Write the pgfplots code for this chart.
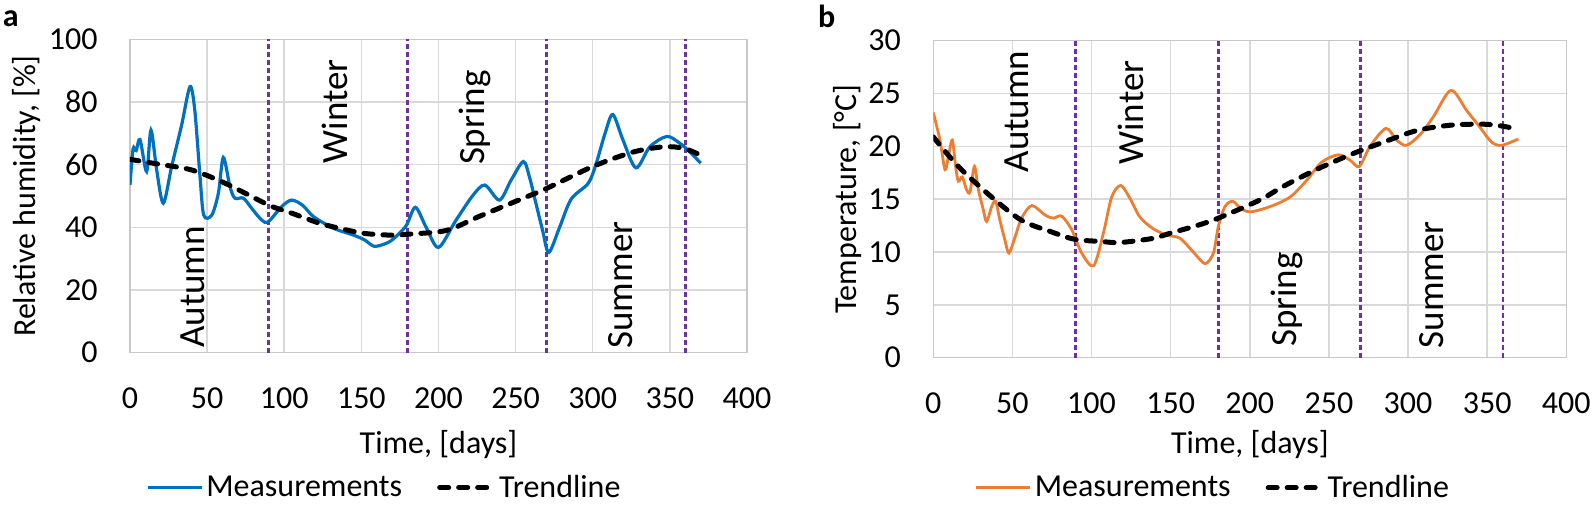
\documentclass[border=0pt]{standalone}
\usepackage{fontspec}
\setmainfont{Carlito}
\usepackage{pgfplots}
\pgfplotsset{compat=1.18}
\definecolor{mblue}{HTML}{0070C0}
\definecolor{morange}{HTML}{ED7D31}
\definecolor{mpurple}{HTML}{7030A0}
\definecolor{gridgray}{HTML}{D9D9D9}
\definecolor{axgray}{HTML}{C8C8C8}
\newcommand{\lf}{\fontsize{16}{19}\selectfont}
\newcommand{\seasonf}{\fontsize{18.5}{22}\selectfont}

\pgfplotsset{
  common/.style={
    scale only axis,
    xmin=0, xmax=400, xtick={0,50,...,400},
    major tick length=0pt,
    tick style={draw=none},
    grid=major,
    major grid style={gridgray, line width=0.75pt},
    axis line style={axgray, line width=0.75pt},
    /pgf/number format/assume math mode=true,
    tick label style={font=\lf},
    xticklabel style={anchor=north, inner sep=0pt, yshift=-17.5pt},
    yticklabel style={anchor=east, inner sep=0pt, xshift=-16pt},
    label style={font=\lf},
    legend columns=2,
    legend style={draw=none, fill=none, font=\lf, anchor=center,
      inner sep=0pt,
      /tikz/every even column/.append style={column sep=16pt},
      nodes={inner sep=1.5pt, inner ysep=0pt}},
    legend image code/.code={\draw[##1] (0pt,0pt) -- (27pt,0pt);},
  },
  trend/.style={black, line width=2.5pt, line cap=round, dash pattern=on 4.5pt off 5pt, smooth},
  season/.style={mpurple, line width=1.4pt, dash pattern=on 2.5pt off 1.5pt, forget plot},
}

\begin{document}
\begin{tikzpicture}
\useasboundingbox (0,0) rectangle (796pt,252pt);

% ---------- panel a ----------
\begin{axis}[common,
  at={(65pt,75.65pt)}, anchor=south west,
  width=308.5pt, height=156.7pt,
  ymin=0, ymax=100, ytick={0,20,...,100},
  xlabel={Time, [days]}, ylabel={Relative humidity, [\%]},
  xlabel style={at={(axis description cs:0.5,-0.2945)}, anchor=center},
  ylabel style={at={(axis description cs:-0.167,0.5)}, anchor=center},
  legend style={at={(axis description cs:0.413,-0.43)}},
]
\addplot[season] coordinates {(90,0) (90,100)};
\addplot[season] coordinates {(180,0) (180,100)};
\addplot[season] coordinates {(270,0) (270,100)};
\addplot[season] coordinates {(360,0) (360,100)};
\addplot[mblue, line width=1.6pt, smooth] coordinates {
(0,53.5) (2,65) (4,64.5) (6.5,68) (10.8,57.8) (13.6,71) (17.3,58.3) (21.6,47.7)
(27,59.4) (33.5,72.7) (38.9,84.9) (42,77.4) (45.4,56.2) (47.8,43.9) (53,43.9)
(57.3,50.9) (60.5,62.3) (64.8,53) (68,49.3) (73.5,49.3) (79,46) (85.4,42.3)
(89.7,41.8) (98.3,46.6) (104.8,48.7) (112,47) (119,43.4) (132,39.7) (145,37.5)
(152,36) (158,34) (164,34.5) (170,36) (179,40.5) (185,46.4) (192,40) (200,33.6)
(211,42) (222,50) (230,53.5) (239.5,48.7) (247,55) (255,61) (259,56) (263,48)
(267.5,39) (271.5,32) (278.5,40) (286,49) (297,54) (302,60) (308,70) (313,76)
(319.5,68) (328,59) (337,65.7) (348,69) (356,67) (362,64.5) (370,60.5)};
\addlegendentry{Measurements}
\addplot[trend] coordinates {
(0,61.7) (18,60.2) (40,58.3) (62,54) (90,47.1) (105,44.5) (123,41.3) (140,39.2)
(153,38) (170,37.5) (180,37.8) (205,39) (226,43.4) (252,48.7) (270,52.4)
(300,59.4) (326,64) (346,65.7) (359,65.2) (370,63)};
\addlegendentry{Trendline}
\node[rotate=90, font=\seasonf] at (axis cs:40.6,21) {Autumn};
\node[rotate=90, font=\seasonf] at (axis cs:133,77) {Winter};
\node[rotate=90, font=\seasonf] at (axis cs:223.6,75) {Spring};
\node[rotate=90, font=\seasonf] at (axis cs:318,21.6) {Summer};
\end{axis}

% ---------- panel b ----------
\begin{axis}[common,
  at={(466.65pt,73.15pt)}, anchor=south west,
  width=316.5pt, height=158.5pt,
  ymin=0, ymax=30, ytick={0,5,...,30},
  xlabel={Time, [days]}, ylabel={Temperature, [°C]},
  xlabel style={at={(axis description cs:0.5,-0.2754)}, anchor=center},
  ylabel style={at={(axis description cs:-0.136,0.5)}, anchor=center},
  legend style={at={(axis description cs:0.4427,-0.41)}},
]
\addplot[season] coordinates {(90,0) (90,30)};
\addplot[season] coordinates {(180,0) (180,30)};
\addplot[season] coordinates {(270,0) (270,30)};
\addplot[season] coordinates {(360,0) (360,30)};
\addplot[morange, line width=1.4pt, smooth] coordinates {
(0,23.2) (4.2,20.6) (7.4,17.8) (9.5,19) (12,20.6) (14.1,18.1) (15.8,16.7) (18.3,17.1)
(21,15.9) (23.2,15.7) (26,18.1) (28.5,15.9) (31.6,14) (33.7,12.9) (36.9,14.3)
(39.4,14.8) (42.1,13) (45.3,11.1) (47.8,9.9) (51.6,11.4) (55.8,13.2) (62.2,14.4)
(70.6,13.5) (75.8,13.2) (81.1,13.4) (87.5,12.1) (93.8,9.9) (101.3,8.7) (107.5,11.8)
(112.7,15.2) (118.4,16.3) (124.2,15.1) (130.6,13.3) (139,12.2) (147.5,11.6)
(155.9,11.3) (164.3,10) (171.7,8.9) (177,9.9) (180.1,12.4) (184.3,14.3) (189.2,14.8)
(193.8,14.2) (200.1,13.8) (212.8,14.3) (225.4,15.2) (236,16.8) (245.4,18.5)
(256,19.2) (263.3,18.7) (269.2,18.1) (276,20) (286,21.7) (292.7,20.6) (299,20.1)
(307.5,21.1) (316,22.8) (327.1,25.3) (337,23.4) (345.5,21.8) (352.8,20.4)
(359.2,20.1) (369.7,20.7)};
\addlegendentry{Measurements}
\addplot[trend] coordinates {
(0,20.9) (15.8,18.1) (36.9,15.2) (55.8,13) (74.8,11.9) (89.5,11.2) (106,11)
(118,10.9) (139,11.3) (150,11.8) (166.5,12.5) (180,13.2) (206,14.9) (221,16.2)
(242,17.8) (263.3,19.2) (284.4,20.4) (305.5,21.5) (326.5,22) (347.6,22.1)
(360.2,21.9) (369.7,21.6)};
\addlegendentry{Trendline}
\node[rotate=90, font=\seasonf] at (axis cs:52.7,23.3) {Autumn};
\node[rotate=90, font=\seasonf] at (axis cs:124.8,23.2) {Winter};
\node[rotate=90, font=\seasonf] at (axis cs:223.6,5.5) {Spring};
\node[rotate=90, font=\seasonf] at (axis cs:314.7,6.9) {Summer};
\end{axis}

\node[font=\fontsize{16}{19}\selectfont\bfseries] at (5.4pt,242.8pt) {a};
\node[font=\fontsize{16}{19}\selectfont\bfseries] at (413.3pt,243.7pt) {b};
\end{tikzpicture}
\end{document}
